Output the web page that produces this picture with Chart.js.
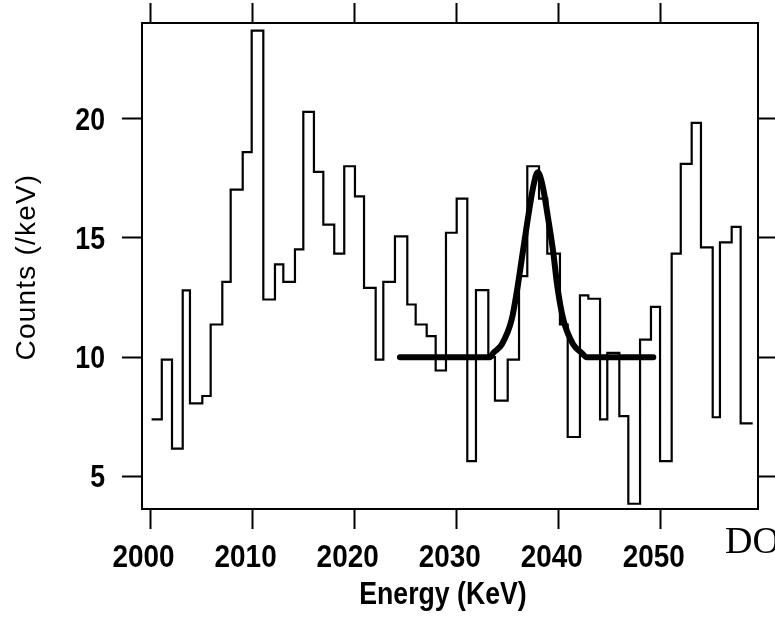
<!DOCTYPE html>
<html>
<head>
<meta charset="utf-8">
<title>Energy spectrum</title>
<script src="https://cdn.jsdelivr.net/npm/chart.js@4.4.0/dist/chart.umd.min.js"></script>
<style>
  html, body { margin: 0; padding: 0; background: #fff; }
  #wrap { width: 775px; height: 619px; position: relative; }
</style>
</head>
<body>
<div id="wrap"><canvas id="spectrumChart"></canvas></div>
<script>
// Spectrum: lower bin edges (keV) and counts per keV in each bin
const binEdges = [
  2000.1, 2001.1, 2002.1, 2003.15, 2003.86, 2005.07, 2005.89, 2007.03, 2007.85, 2009.03,
  2009.91, 2011.05, 2012.19, 2013.01, 2014.15, 2014.97, 2016.01, 2016.93, 2018.0, 2018.98,
  2020.03, 2020.92, 2022.06, 2022.81, 2023.95, 2025.16, 2025.98, 2027.06, 2027.94, 2028.95,
  2030.0, 2031.04, 2031.89, 2033.1, 2033.75, 2035.0, 2036.11, 2036.92, 2038.07, 2038.88,
  2040.12, 2040.88, 2042.08, 2042.9, 2044.05, 2044.76, 2045.94, 2046.82, 2047.97, 2049.04,
  2049.93, 2051.07, 2051.96, 2053.03, 2053.94, 2055.09, 2055.8, 2056.95, 2057.83, 2059.01
];
const counts = [
  7.39, 9.9, 6.16, 12.8, 8.06, 8.37, 11.37, 13.16, 17.03, 18.6,
  23.7, 12.42, 13.89, 13.16, 14.52, 20.29, 17.77, 15.56, 14.34, 18.01,
  16.75, 12.91, 9.9, 13.16, 15.07, 12.21, 11.37, 10.88, 9.44, 15.22,
  16.65, 5.64, 12.81, 10.0, 8.18, 9.9, 13.4, 18.01, 16.65, 14.34,
  11.37, 6.65, 12.59, 12.45, 7.39, 10.18, 7.53, 3.85, 10.74, 12.11,
  5.64, 14.34, 18.11, 19.83, 14.61, 7.48, 14.82, 15.47, 7.22
];

// Fitted peak on a flat background
const fitEnergy = [
  2024.44, 2033.26, 2033.59, 2034.41, 2035.39, 2035.98, 2036.47, 2036.96, 2037.51, 2037.94,
  2038.43, 2038.98, 2039.47, 2039.86, 2040.45, 2041.43, 2042.25, 2042.74, 2049.27
];
const fitCounts = [
  10.0, 10.0, 10.18, 10.53, 11.58, 12.98, 14.38, 15.77, 17.17, 17.76,
  17.17, 15.77, 14.38, 12.98, 11.58, 10.53, 10.18, 10.0, 10.0
];

const xTicks = [2000, 2010, 2020, 2030, 2040, 2050];
const yTicks = [5, 10, 15, 20];
const xRange = [1999.16, 2059.53];
const yRange = [3.63, 24.02];

const FONT = "'Liberation Sans', Arial, Helvetica, sans-serif";

// histogram as a stepped line, last edge closes the final bin
const histPoints = binEdges.map((e, i) => ({ x: e, y: counts[Math.min(i, counts.length - 1)] }));
const fitPoints = fitEnergy.map((e, i) => ({ x: e, y: fitCounts[i] }));

function fixedTicks(values) {
  return function (scale) {
    scale.ticks = values.map((v) => ({ value: v }));
  };
}

function frameAxis(position, range, values, size) {
  return {
    type: "linear",
    position: position,
    min: range[0],
    max: range[1],
    afterBuildTicks: fixedTicks(values),
    afterFit: function (scale) {
      if (position === "top" || position === "bottom") scale.height = size;
      else scale.width = size;
    },
    ticks: { display: false },
    grid: {
      drawOnChartArea: false,
      drawTicks: true,
      tickLength: 20,
      tickWidth: 2,
      tickColor: "#000",
      color: "#000",
    },
    border: { display: true, color: "#000", width: 2 },
  };
}

// condensed text: draw at (x, y) squeezed horizontally
function narrowText(ctx, text, x, y, squeeze) {
  ctx.save();
  ctx.translate(x, y);
  ctx.scale(squeeze, 1);
  ctx.fillText(text, 0, 0);
  ctx.restore();
}

// tick labels and axis titles
const axisText = {
  id: "axisText",
  afterDraw(chart) {
    const ctx = chart.ctx;
    const xs = chart.scales.x;
    const ys = chart.scales.y;
    const area = chart.chartArea;
    ctx.save();
    ctx.fillStyle = "#000";
    ctx.font = "bold 31px " + FONT;
    ctx.textBaseline = "alphabetic";

    ctx.textAlign = "right";
    yTicks.forEach((v) => narrowText(ctx, String(v), area.left - 37, ys.getPixelForValue(v) + 11, 0.86));

    ctx.textAlign = "center";
    xTicks.forEach((v) => narrowText(ctx, String(v), xs.getPixelForValue(v) - 7, 567, 0.9));
    narrowText(ctx, "Energy (KeV)", (area.left + area.right) / 2 - 7, 604, 0.86);

    ctx.font = "28px " + FONT;
    ctx.save();
    ctx.translate(35, 267);
    ctx.rotate(-Math.PI / 2);
    ctx.letterSpacing = "1.2px";
    ctx.fillText("Counts (/keV)", 0, 0);
    ctx.restore();

    ctx.font = "38px 'Liberation Serif', 'Times New Roman', serif";
    ctx.textAlign = "left";
    ctx.fillText("DO", 725, 553);
    ctx.restore();
  },
};

const ctx = document.getElementById("spectrumChart").getContext("2d");
const spectrumChart = new Chart(ctx, {
  type: "line",
  data: {
    datasets: [
      {
        label: "spectrum",
        data: histPoints,
        stepped: "before",
        borderColor: "#000",
        borderWidth: 2.2,
        pointRadius: 0,
        fill: false,
        xAxisID: "x",
        yAxisID: "y",
      },
      {
        label: "fit",
        data: fitPoints,
        cubicInterpolationMode: "monotone",
        borderColor: "#000",
        borderWidth: 6,
        borderCapStyle: "round",
        pointRadius: 0,
        fill: false,
        xAxisID: "x",
        yAxisID: "y",
      },
    ],
  },
  options: {
    responsive: true,
    maintainAspectRatio: false,
    animation: false,
    devicePixelRatio: 1,
    layout: { padding: 0 },
    plugins: { legend: { display: false }, tooltip: { enabled: false } },
    scales: {
      x: frameAxis("bottom", xRange, xTicks, 110),
      x2: frameAxis("top", xRange, xTicks, 23),
      y: frameAxis("left", yRange, yTicks, 142),
      y2: frameAxis("right", yRange, yTicks, 17),
    },
  },
  plugins: [axisText],
});
</script>
</body>
</html>
